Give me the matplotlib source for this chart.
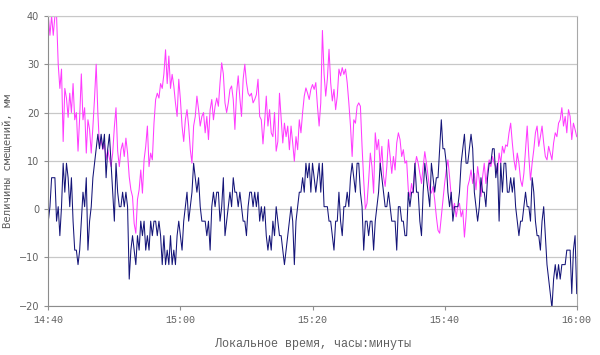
import matplotlib
matplotlib.use('Agg')
import matplotlib.pyplot as plt
import matplotlib.dates as mdates
import pandas as pd

# displacement readings (mm), one reading every 15 s starting at 14:40
magenta_mm = [
    # 14:40 - 14:53
    40, 36, 40, 36, 40, 40, 30, 25, 29, 14, 25, 23, 19, 24, 20, 26, 18.5, 20,
    12, 19, 28, 18.5, 21, 11.6, 18.5, 16.5, 11.6, 17, 23, 30, 20, 13, 14.4, 12.3,
    13.7, 10.2, 12.3, 10.6, 8.8, 11.6, 17, 21, 12, 8.8, 12.3, 13.7, 10.9, 14.7,
    11.6, 6.7, 4, 2.6, -3, -5,
    # 14:53 - 15:07
    2, 4, 8.1, 3.3, 10.2, 13, 17.2, 8.8, 11.6, 10.2, 17.8, 22.7, 24, 23, 26, 25,
    28, 33, 26, 31.7, 25, 27.9, 25.5, 22, 19.2, 26.9, 22.7, 17.2, 14, 18.5, 20.6,
    17.2, 12.3, 9.5, 17.2, 19.2, 23.4, 20.6, 17.2, 19.2, 20, 15.8, 19.2, 14.4,
    20.6, 22.7, 18.5, 21.3, 23, 21.3, 26.2, 30.3, 28, 22,
    # 15:07 - 15:20
    20, 22, 24.8, 25.5, 22.7, 16.5, 24, 27.6, 23, 19.2, 26.9, 30, 26.2, 24, 23.4,
    24, 22, 22.7, 23.7, 26.9, 19.2, 18.5, 13.5, 18, 23.4, 17.2, 20.6, 15.8, 15,
    20, 12, 14, 24, 19, 13.7, 17.8, 15, 17.2, 12.3, 17.2, 13.7, 9.9, 15, 12.3,
    18.5, 15.8, 20, 23.4, 25.1, 24, 22.7, 24.8, 25.8, 24.8, 26.2,
    # 15:20 - 15:34
    21.3, 17.2, 22, 37, 28, 23.4, 27, 33.1, 26.2, 22.4, 24.8, 20.6, 23.4, 29,
    27.6, 29.3, 27.9, 29, 26.2, 22, 17.2, 10.9, 18.5, 17.8, 21.3, 22, 21.3, 13, 6,
    0, 1.2, 6, 11.6, 8.8, 3.3, 15.8, 12.3, 14.4, 8.8, 13, 6.7, 4.7, 8.8, 14.4,
    10.9, 7.4, 10.9, 8.1, 13.7, 15.8, 14.4, 10.9, 12.3, 9.5,
    # 15:34 - 15:47
    10, 4, 2.6, 5.3, 3.3, 8.8, 10.9, 9.5, 7.4, 5.3, 8.8, 11.9, 9.5, 6.7, 4, 3.3,
    4.7, 1.9, -1.6, -4.4, -5, -1.6, 1.9, 5.3, 8.1, 10.2, 6.7, 2.6, -0.2, 1.2,
    -1.6, 0.5, 1.2, -1.6, -0.2, -5.8, -1.6, 4.7, 6, 8.1, 5.3, 7.4, 4, 8.8, 6, 2.6,
    6.7, 9.5, 5.3, 8.1, 10.2, 8.8, 10.9, 9.5,
    # 15:47 - 16:00
    8.8, 7.4, 11.6, 9.5, 13, 11.6, 13.3, 13, 15.8, 17.8, 13.7, 10.2, 8.1, 11.6,
    9.5, 6, 4.7, 7.4, 12.3, 17.2, 10.9, 6, 9.5, 12.3, 15.8, 17.2, 13, 15, 17.2,
    13.7, 10.9, 10.2, 13, 11.6, 10.2, 13.7, 15.8, 15, 17.8, 18.5, 21, 17.2, 19.2,
    15.8, 20.6, 19.2, 14.4, 17.8, 16.5, 15,
]

navy_mm = [
    # 14:40 - 14:53
    -2.5, 0.5, 6.5, 6.5, 6.5, -2.5, 0.5, -5.5, 0.5, 9.5, 3.5, 9.5, 6.5, 0.5, 6.5,
    -2.5, -8.5, -8.5, -11.5, -8.5, -2.5, 3.5, 0.5, 6.5, -8.5, -2.5, 0.5, 6.5, 9.5,
    12.5, 15.5, 12.5, 15.5, 12.5, 15.5, 6.5, 12.5, 15.5, 9.5, 3.5, -2.5, 9.5, 3.5,
    0.5, 0.5, 3.5, 0.5, 3.5, 0.5, -14.5, -8.5, -5.5, -8.5, -11.5,
    # 14:53 - 15:07
    -5.5, -8.5, -2.5, -5.5, -2.5, -8.5, -5.5, -8.5, -2.5, -5.5, -2.5, -2.5, -5.5,
    -2.5, -5.5, -11.5, -5.5, -11.5, -8.5, -11.5, -5.5, -11.5, -8.5, -11.5, -5.5,
    -2.5, -5.5, -8.5, -2.5, 0.5, 3.5, -2.5, 0.5, 3.5, 9.5, 6.5, 3.5, 6.5, 0.5,
    -2.5, -2.5, -2.5, -5.5, -2.5, -8.5, 0.5, 3.5, 0.5, 3.5, 3.5, -2.5, 0.5, 6.5,
    -5.5,
    # 15:07 - 15:20
    -2.5, 0.5, 3.5, 0.5, 6.5, 3.5, 3.5, 0.5, 3.5, 0.5, -2.5, -2.5, -5.5, 0.5, 3.5,
    3.5, 0.5, 3.5, 0.5, 3.5, -2.5, 0.5, -2.5, 0.5, -5.5, -8.5, -5.5, -8.5, -2.5,
    -5.5, 0.5, -2.5, -5.5, -5.5, -8.5, -11.5, -8.5, -5.5, -2.5, 0.5, -2.5, -11.5,
    -2.5, 0.5, 3.5, 3.5, 6.5, 3.5, 9.5, 6.5, 9.5, 3.5, 9.5, 6.5, 3.5,
    # 15:20 - 15:34
    6.5, 9.5, 3.5, 9.5, 0.5, 0.5, 0.5, -2.5, -2.5, -5.5, -8.5, -2.5, -2.5, 3.5,
    -2.5, -5.5, 0.5, 0.5, 3.5, 0.5, 6.5, 9.5, 6.5, 3.5, 9.5, 9.5, 3.5, 0.5, -8.5,
    -2.5, -2.5, -5.5, -2.5, -2.5, -8.5, -2.5, 0.5, 3.5, 9.5, 6.5, 3.5, 0.5, 0.5,
    3.5, 0.5, -2.5, -2.5, -2.5, -8.5, 0.5, 0.5, -2.5, -2.5, -5.5,
    # 15:34 - 15:47
    -5.5, 3.5, 0.5, 3.5, 3.5, 9.5, 3.5, 3.5, -2.5, -5.5, 3.5, 9.5, 6.5, 3.5, 0.5,
    9.5, 6.5, 3.5, 6.5, 6.5, 12.5, 18.5, 12.5, 12.5, 9.5, 3.5, 0.5, 3.5, -2.5,
    0.5, 0.5, 0.5, 3.5, 9.5, 12.5, 15.5, 9.5, 9.5, 12.5, 15.5, 12.5, 3.5, 0.5,
    -2.5, 0.5, 6.5, 3.5, 3.5, 0.5, 6.5, 9.5, 9.5, 12.5, 12.5,
    # 15:47 - 16:00
    6.5, 9.5, -2.5, 9.5, 3.5, 9.5, 9.5, 3.5, 3.5, 6.5, 3.5, 6.5, 0.5, -2.5, -5.5,
    -2.5, -2.5, 0.5, 3.5, 0.5, 0.5, -2.5, 6.5, 3.5, -2.5, -5.5, -5.5, -8.5, -2.5,
    0.5, -5.5, -11.5, -14.5, -17.5, -20.5, -14.5, -11.5, -14.5, -11.5, -14.5,
    -11.5, -11.5, -11.5, -8.5, -8.5, -8.5, -17.5, -8.5, -5.5, -17.5,
]

y_ticks = [-20, -10, 0, 10, 20, 30, 40]
x_label = 'Локальное время, часы:минуты'
y_label = 'Величины смещений, мм'

# time axis for both series
t0 = pd.Timestamp('2000-01-01 14:40')
t1 = pd.Timestamp('2000-01-01 16:00')
t_mag = pd.date_range(t0, periods=len(magenta_mm), freq='15s')
t_navy = pd.date_range(t0, periods=len(navy_mm), freq='15s')

fig = plt.figure(figsize=(6, 3.55), dpi=100)
ax = fig.add_axes([0.0805, 0.139, 0.8807, 0.816])

ax.plot(t_mag, magenta_mm, color='#ff3cff', lw=0.75)
ax.plot(t_navy, navy_mm, color='#141478', lw=0.75)

# axes limits and ticks
ax.set_xlim(t0, t1)
ax.set_ylim(-20, 40)
ax.set_yticks(y_ticks)
ax.xaxis.set_major_locator(mdates.MinuteLocator(byminute=[0, 20, 40]))
ax.xaxis.set_major_formatter(mdates.DateFormatter('%H:%M'))

ax.grid(axis='y', color='#c8c8c8', lw=0.9)
ax.set_axisbelow(True)

ax.tick_params(direction='out', length=3, width=0.8, color='#909090', labelcolor='#606060')
for lab in ax.get_xticklabels():
    lab.set_family('Liberation Mono')
    lab.set_fontsize(7.2)
for lab in ax.get_yticklabels():
    lab.set_family('DejaVu Sans')
    lab.set_fontsize(7)

# frame colours
ax.spines['left'].set_color('#8c8c8c')
ax.spines['bottom'].set_color('#8c8c8c')
ax.spines['top'].set_color('#c8c8c8')
ax.spines['right'].set_color('#a8a8a8')

ax.set_xlabel(x_label, family='Liberation Mono', fontsize=8.5, color='#606060')
ax.xaxis.set_label_coords(0.5, -0.11)
ax.set_ylabel(y_label, family='DejaVu Sans Mono', fontsize=7.7, color='#606060')
ax.yaxis.set_label_coords(-0.066, 0.5)

fig.savefig('out.png', dpi=100)
